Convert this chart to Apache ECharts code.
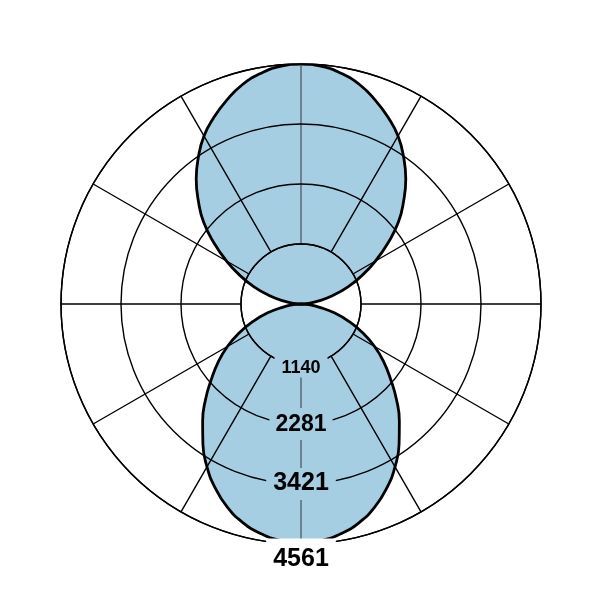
<!DOCTYPE html>
<html>
<head>
<meta charset="utf-8">
<title>Polar pattern</title>
<script src="https://cdn.jsdelivr.net/npm/echarts@6/dist/echarts.min.js"></script>
<style>
    html, body { margin: 0; padding: 0; background: #fff; }
    #main { width: 601px; height: 601px; }
</style>
</head>
<body>
<div id="main"></div>
<script>
// angle away from the lobe axis, degrees
var offsets = [0, 5, 10, 15, 20, 25, 30, 35, 40, 45, 50, 55, 60, 65, 70, 75, 80, 85, 90];
// top lobe and bottom lobe
var frontLobe = [4561, 4532, 4447, 4314, 4124, 3915, 3687, 3402, 3098, 2756, 2414, 2014, 1634, 1273, 950, 627, 342, 133, 0];
var backLobe = [4542, 4513, 4428, 4295, 4105, 3858, 3573, 3250, 2908, 2566, 2223, 1919, 1615, 1292, 969, 665, 361, 152, 0];
// ring labels
var ringLabels = ['1140', '2281', '3421', '4561'];
var maxValue = 4561;
var ringStep = maxValue / 4;

var myChart = echarts.init(document.getElementById('main'));

// mirror a half profile round its axis angle
function lobeData(profile, axisAngle) {
    var pts = [];
    for (var i = offsets.length - 1; i > 0; i--) {
        pts.push([profile[i], (axisAngle - offsets[i] + 360) % 360]);
    }
    for (var j = 0; j < offsets.length; j++) {
        pts.push([profile[j], (axisAngle + offsets[j]) % 360]);
    }
    return pts;
}

var center = [301, 304];
var font = '"Liberation Sans", Arial, sans-serif';
var blue = '#a6cee3';

var option = {
    animation: false,
    backgroundColor: '#fff',
    polar: [
        { center: center, radius: [60, 240] },
        { center: center, radius: [0, 240] }
    ],
    angleAxis: [
        {
            polarIndex: 0,
            type: 'value',
            min: 0,
            max: 360,
            interval: 30,
            startAngle: 270,
            clockwise: true,
            z: 3,
            axisLine: { show: true, lineStyle: { color: '#000', width: 1.4 } },
            axisTick: { show: false },
            axisLabel: { show: false },
            splitLine: {
                show: true,
                lineStyle: {
                    color: ['#56636b', '#000', '#000', '#000', '#000', '#000'],
                    width: 1.4
                }
            }
        },
        {
            polarIndex: 1,
            type: 'value',
            min: 0,
            max: 360,
            startAngle: 90,
            clockwise: true,
            show: false
        }
    ],
    radiusAxis: [
        {
            polarIndex: 0,
            type: 'value',
            min: ringStep,
            max: maxValue,
            interval: ringStep,
            z: 4,
            axisLine: { show: false },
            axisTick: { show: false },
            splitLine: { show: true, lineStyle: { color: '#000', width: 1.4 } },
            axisLabel: {
                show: true,
                margin: 0,
                align: 'center',
                verticalAlign: 'middle',
                formatter: function (value, index) {
                    var k = Math.round(value / ringStep) - 1;
                    if (k === 3) {
                        return '{gap| }\n{r3|' + ringLabels[k] + '}';
                    }
                    return '{r' + k + '|' + ringLabels[k] + '}';
                },
                rich: {
                    r0: { fontSize: 18, fontWeight: 'bold', fontFamily: font, color: '#000',
                        backgroundColor: blue, padding: [9, 7, 0, 7] },
                    r1: { fontSize: 23, fontWeight: 'bold', fontFamily: font, color: '#000',
                        backgroundColor: blue, padding: [5, 6, 4, 6] },
                    r2: { fontSize: 25, fontWeight: 'bold', fontFamily: font, color: '#000',
                        backgroundColor: blue, padding: [3, 7, 4, 7] },
                    gap: { fontSize: 10, lineHeight: 24 },
                    r3: { fontSize: 25, fontWeight: 'bold', fontFamily: font, color: '#000',
                        backgroundColor: '#fff', padding: [8, 7, 2, 7] }
                }
            }
        },
        {
            polarIndex: 1,
            type: 'value',
            min: 0,
            max: maxValue,
            show: false
        }
    ],
    series: [
        {
            name: 'front',
            type: 'line',
            coordinateSystem: 'polar',
            polarIndex: 1,
            z: 2,
            smooth: 0.5,
            symbol: 'none',
            clip: false,
            lineStyle: { color: '#000', width: 2.8 },
            areaStyle: { color: blue, opacity: 1 },
            data: lobeData(frontLobe, 0)
        },
        {
            name: 'back',
            type: 'line',
            coordinateSystem: 'polar',
            polarIndex: 1,
            z: 2,
            smooth: 0.5,
            symbol: 'none',
            clip: false,
            lineStyle: { color: '#000', width: 2.8 },
            areaStyle: { color: blue, opacity: 1 },
            data: lobeData(backLobe, 180)
        }
    ]
};

myChart.setOption(option);
</script>
</body>
</html>
